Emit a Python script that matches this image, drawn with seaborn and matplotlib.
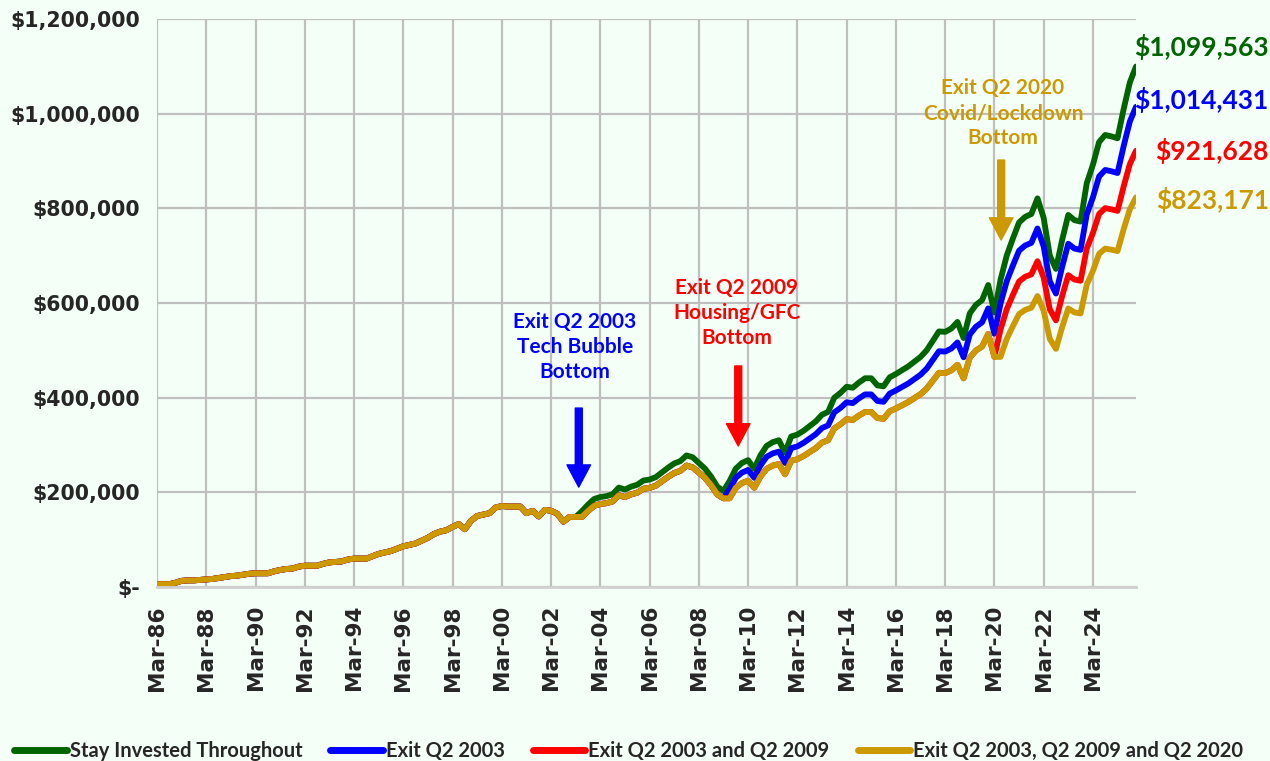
import matplotlib
matplotlib.use('Agg')
import matplotlib.pyplot as plt
import matplotlib.ticker as mticker
import seaborn as sns
import pandas as pd
import numpy as np

# quarterly portfolio value, $ thousands, Mar-86 .. Dec-25
GREEN = [
    6, 6, 6, 9, 13, 14, 14, 15,
    16, 17, 19, 21, 23, 24, 26, 28,
    29, 29, 29, 33, 36, 38, 39, 43,
    45, 45, 45, 49, 52, 53, 54, 58,
    60, 60, 60, 65, 70, 73, 76, 81,
    86, 89, 92, 98, 104, 112, 117, 120,
    127, 133, 122, 140, 150, 153, 156, 168,
    171, 170, 170, 170, 156, 161, 149, 163,
    161, 155, 138, 148, 148, 160, 174, 186,
    190, 192, 196, 210, 206, 212, 216, 225,
    227, 232, 242, 252, 261, 266, 278, 274,
    262, 250, 233, 212, 203, 224, 250, 262,
    268, 250, 278, 298, 306, 310, 284, 318,
    322, 330, 340, 350, 364, 370, 400, 410,
    423, 421, 432, 441, 441, 426, 424, 443,
    450, 458, 466, 476, 486, 500, 520, 540,
    539, 546, 560, 526, 578, 596, 606, 638,
    580, 649, 700, 736, 770, 782, 788, 821,
    780, 700, 672, 733, 786, 775, 772, 853,
    892, 940, 955, 952, 948, 1010, 1066, 1099.563,
]

# values after each exit (Jun-03 on, Jun-09 on, Jun-20 on)
BLUE_TAIL = [
    148, 160.5, 171.6,
    175.3, 177.1, 180.8, 193.7, 190.1, 195.6, 199.3, 207.6,
    209.4, 214.0, 223.3, 232.5, 240.8, 245.4, 256.5, 252.8,
    241.7, 230.7, 215.0, 195.6, 187.3, 206.7, 230.7, 241.7,
    247.3, 230.7, 256.5, 274.9, 282.3, 286.0, 262.0, 293.4,
    297.1, 304.5, 313.7, 322.9, 335.8, 341.4, 369.0, 378.3,
    390.3, 388.4, 398.6, 406.9, 406.9, 393.0, 391.2, 408.7,
    415.2, 422.6, 429.9, 439.2, 448.4, 461.3, 479.8, 498.2,
    497.3, 503.7, 516.7, 485.3, 533.3, 549.9, 559.1, 588.6,
    535.1, 598.8, 645.8, 679.0, 710.4, 721.5, 727.0, 757.5,
    719.6, 645.8, 620.0, 676.3, 725.2, 715.0, 712.2, 787.0,
    823.0, 867.2, 881.1, 878.3, 874.6, 931.8, 983.5, 1014.431,
]
RED_TAIL = [
    187.3, 209.6, 219.6,
    224.7, 209.6, 233.0, 249.7, 256.5, 259.8, 238.0, 266.6,
    269.9, 276.6, 285.0, 293.4, 305.1, 310.2, 335.2, 343.7,
    354.6, 352.9, 362.1, 369.7, 369.7, 357.0, 355.4, 371.3,
    377.2, 383.9, 390.6, 399.0, 407.4, 419.1, 435.9, 452.6,
    451.8, 457.6, 469.4, 440.9, 484.5, 499.6, 507.9, 534.7,
    486.1, 544.0, 586.7, 616.9, 645.4, 655.5, 660.5, 688.2,
    653.8, 586.7, 563.3, 614.4, 658.8, 649.6, 647.0, 715.0,
    747.7, 787.9, 800.5, 797.9, 794.6, 846.5, 893.5, 921.628,
]
GOLD_TAIL = [
    486.1, 524.0, 551.0, 576.5, 585.5, 590.0, 614.7,
    584.0, 524.0, 503.1, 548.8, 588.4, 580.2, 577.9, 638.6,
    667.8, 703.8, 715.0, 712.7, 709.7, 756.1, 798.1, 823.171,
]

SERIES = ["Stay Invested Throughout", "Exit Q2 2003", "Exit Q2 2003 and Q2 2009",
          "Exit Q2 2003, Q2 2009 and Q2 2020"]
COLORS = ["#006400", "#0000FF", "#FF0000", "#CC9900"]
FINAL_LABELS = ["$1,099,563", "$1,014,431", "$921,628", "$823,171"]
TICK_LABELS = ["Mar-86", "Mar-88", "Mar-90", "Mar-92", "Mar-94", "Mar-96", "Mar-98",
               "Mar-00", "Mar-02", "Mar-04", "Mar-06", "Mar-08", "Mar-10", "Mar-12",
               "Mar-14", "Mar-16", "Mar-18", "Mar-20", "Mar-22", "Mar-24"]

blue = GREEN[:69] + BLUE_TAIL
red = blue[:93] + RED_TAIL
gold = red[:137] + GOLD_TAIL

rows = []
for name, vals in zip(SERIES, [GREEN, blue, red, gold]):
    for i, v in enumerate(vals):
        rows.append({"q": i, "value": v, "series": name})
df = pd.DataFrame(rows)

sns.set_style("white")
plt.rcParams['font.family'] = ['DejaVu Sans']
plt.rcParams['lines.solid_joinstyle'] = 'round'
plt.rcParams['lines.solid_capstyle'] = 'round'

BG = "#F4FFF7"
fig = plt.figure(figsize=(12.7, 7.61), dpi=100, facecolor=BG)
ax = fig.add_axes([157/1270, 1-587/761, (1136-157)/1270, (587-19)/761])
ax.set_facecolor(BG)

sns.lineplot(data=df, x="q", y="value", hue="series", hue_order=SERIES,
             palette=dict(zip(SERIES, COLORS)), linewidth=4.2, ax=ax)

ax.set_xlim(0, 159)
ax.set_ylim(0, 1200)
ax.set_xticks(np.arange(0, 160, 8))
ax.set_xticklabels(TICK_LABELS, rotation=90, fontsize=15.5, fontweight='bold')
ax.set_yticks(np.arange(0, 1201, 200))
ax.yaxis.set_major_formatter(mticker.FuncFormatter(
    lambda v, _: "$-" if v == 0 else f"${v*1000:,.0f}"))
for t in ax.get_yticklabels():
    t.set_fontsize(14.8)
    t.set_fontweight('bold')
ax.grid(True, color='#BFBFBF', linewidth=1.6)
ax.set_axisbelow(True)
for s in ['top', 'right', 'left']:
    ax.spines[s].set_visible(False)
ax.spines['bottom'].set_color('#D0D0D0')
ax.spines['bottom'].set_linewidth(2)
ax.tick_params(axis='x', length=7, width=1.2, color='#BFBFBF', pad=6)
ax.tick_params(axis='y', length=0, pad=12)
ax.set_xlabel('')
ax.set_ylabel('')

# annotations
ann_font = dict(family='Lato', weight='bold', size=15)
notes = [
    ("Exit Q2 2003\nTech Bubble\nBottom", 67.9, 507, 68.5, 378, 211, COLORS[1]),
    ("Exit Q2 2009\nHousing/GFC\nBottom", 94.2, 579, 94.4, 467, 298, COLORS[2]),
    ("Exit Q2 2020\nCovid/Lockdown\nBottom", 137.4, 1001, 137.1, 902, 733, COLORS[3]),
]
for txt, tx, ty, axx, y0, y1, c in notes:
    ax.text(tx, ty, txt, color=c, ha='center', va='center', linespacing=1.3, **ann_font)
    ax.annotate('', xy=(axx, y1), xytext=(axx, y0),
                arrowprops=dict(facecolor=c, edgecolor=c, width=5, headwidth=17,
                                headlength=16, shrink=0))

for lab, yv, c in zip(FINAL_LABELS, [1141, 1029, 921, 818], COLORS):
    ax.annotate(lab, xy=(0.999, yv), xycoords=('figure fraction', 'data'),
                ha='right', va='center', color=c, family='Lato', weight='bold',
                size=19, annotation_clip=False)

handles, labels = ax.get_legend_handles_labels()
ax.get_legend().remove()
leg = fig.legend(handles, labels, loc='lower center', bbox_to_anchor=(0.495, -0.024),
                 ncol=4, frameon=False,
                 prop={'family': 'Lato', 'weight': 'bold', 'size': 14.5},
                 handlelength=2.6, handletextpad=0.15, columnspacing=1.4)
for line in leg.get_lines():
    line.set_linewidth(5)

plt.savefig("out.png", dpi=100, facecolor=BG)
